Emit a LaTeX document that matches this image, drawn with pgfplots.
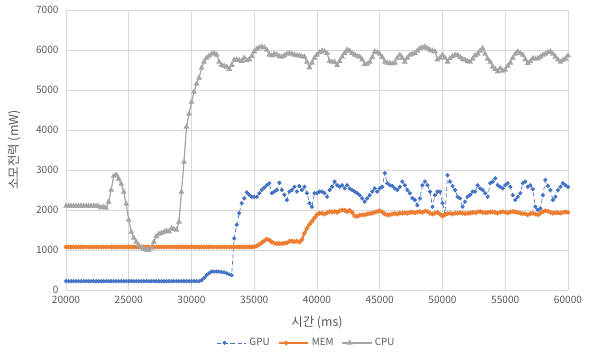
\documentclass[border=0pt]{standalone}
\usepackage{fontspec}
\setmainfont{Noto Sans CJK KR}
\usepackage{pgfplots}
\usepackage{pgfplotstable}
\pgfplotsset{compat=1.18}
\definecolor{gpuc}{HTML}{4472C4}
\definecolor{memc}{HTML}{ED7D31}
\definecolor{cpuc}{HTML}{A5A5A5}
\definecolor{gridc}{HTML}{D9D9D9}
\definecolor{txtc}{HTML}{595959}
\pgfplotstableread{
t gpu mem cpu
20000 220 1075 2100
20200 220 1075 2100
20400 220 1075 2100
20600 220 1075 2100
20800 220 1075 2100
21000 220 1075 2100
21200 220 1075 2100
21400 220 1075 2100
21600 220 1075 2100
21800 220 1075 2100
22000 220 1075 2100
22200 220 1075 2100
22400 220 1075 2100
22600 220 1075 2090
22800 220 1075 2060
23000 220 1075 2080
23200 220 1075 2050
23400 220 1075 2200
23600 220 1075 2500
23800 220 1075 2850
24000 220 1075 2880
24200 220 1075 2780
24400 220 1075 2650
24600 220 1075 2450
24800 220 1075 2150
25000 220 1075 1750
25200 220 1075 1450
25400 220 1075 1300
25600 220 1075 1200
25800 220 1075 1120
26000 220 1075 1060
26200 220 1075 1020
26400 220 1075 1000
26600 220 1075 990
26800 220 1075 1050
27000 220 1075 1200
27200 220 1075 1340
27400 220 1075 1400
27600 220 1075 1420
27800 220 1075 1450
28000 220 1075 1480
28200 220 1075 1460
28400 220 1075 1540
28600 220 1075 1520
28800 220 1075 1500
29000 220 1075 1700
29200 220 1075 2450
29400 220 1075 3200
29600 220 1075 4080
29800 220 1075 4400
30000 220 1075 4700
30200 220 1075 4950
30400 220 1075 5150
30600 220 1075 5300
30800 240 1075 5550
31000 300 1075 5700
31200 370 1075 5800
31400 420 1075 5850
31600 460 1075 5900
31800 460 1075 5920
32000 460 1075 5880
32200 460 1075 5700
32400 450 1075 5620
32600 440 1075 5600
32800 420 1075 5580
33000 390 1075 5520
33200 370 1075 5620
33400 1290 1075 5750
33600 1630 1075 5760
33800 1920 1075 5740
34000 2170 1075 5720
34200 2290 1075 5800
34400 2440 1075 5740
34600 2380 1075 5760
34800 2330 1075 5840
35000 2330 1080 5960
35200 2330 1100 6020
35400 2420 1140 6060
35600 2500 1180 6080
35800 2560 1230 6060
36000 2620 1270 6000
36200 2670 1250 5880
36400 2420 1200 5860
36600 2460 1170 5900
36800 2500 1160 5880
37000 2680 1160 5840
37200 2500 1160 5830
37400 2380 1170 5860
37600 2250 1180 5900
37800 2460 1220 5920
38000 2500 1220 5900
38200 2580 1210 5880
38400 2460 1220 5860
38600 2600 1200 5860
38800 2500 1260 5840
39000 2580 1420 5830
39200 2420 1540 5700
39400 2170 1640 5560
39600 2080 1720 5680
39800 2420 1800 5800
40000 2420 1880 5880
40200 2460 1920 5940
40400 2460 1920 5980
40600 2420 1900 5960
40800 2330 1930 5920
41000 2500 1960 5720
41200 2580 1950 5700
41400 2710 1960 5700
41600 2620 1940 5620
41800 2580 1980 5720
42000 2620 2000 5830
42200 2540 1990 5920
42400 2620 1960 6000
42600 2540 1990 5980
42800 2500 1940 5920
43000 2460 1850 5880
43200 2420 1840 5850
43400 2370 1870 5830
43600 2290 1880 5760
43800 2210 1880 5640
44000 2290 1900 5650
44200 2370 1910 5700
44400 2460 1920 5820
44600 2540 1940 5960
44800 2460 1960 5940
45000 2540 1980 5900
45200 2580 1950 5820
45400 2920 1900 5700
45600 2670 1880 5680
45800 2620 1880 5670
46000 2600 1900 5660
46200 2540 1910 5680
46400 2500 1900 5800
46600 2580 1920 5875
46800 2710 1920 5800
47000 2620 1930 5700
47200 2500 1920 5800
47400 2420 1940 5875
47600 2300 1940 5900
47800 2250 1930 5920
48000 2120 1950 5980
48200 2290 1960 6040
48400 2620 1940 6060
48600 2710 1970 6080
48800 2620 1960 6040
49000 2460 1920 6000
49200 2080 1900 5980
49400 2370 1920 5960
49600 2460 1940 5760
49800 2460 1900 5800
50000 2170 1850 5875
50200 1900 1880 5800
50400 2870 1910 5700
50600 2710 1920 5790
50800 2600 1900 5840
51000 2500 1920 5875
51200 2330 1920 5870
51400 2290 1930 5820
51600 2080 1920 5770
51800 2210 1910 5750
52000 2330 1920 5720
52200 2380 1920 5700
52400 2460 1940 5780
52600 2460 1930 5860
52800 2620 1950 5900
53000 2540 1960 5980
53200 2500 1940 6040
53400 2420 1930 5900
53600 2330 1940 5780
53800 2670 1950 5700
54000 2710 1950 5580
54200 2790 1940 5520
54400 2620 1920 5460
54600 2580 1940 5540
54800 2540 1960 5480
55000 2620 1940 5500
55200 2670 1930 5600
55400 2580 1950 5680
55600 2370 1960 5800
55800 2250 1950 5900
56000 2330 1940 5960
56200 2420 1920 5920
56400 2670 1910 5875
56600 2710 1900 5760
56800 2580 1880 5670
57000 2620 1910 5720
57200 2520 1920 5790
57400 2080 1900 5780
57600 2000 1880 5790
57800 2040 1920 5830
58000 2370 1960 5875
58200 2750 1980 5900
58400 2600 1970 5940
58600 2500 1940 5960
58800 2250 1920 5900
59000 2330 1930 5830
59200 2500 1930 5760
59400 2580 1920 5700
59600 2670 1940 5750
59800 2620 1950 5780
60000 2580 1940 5860
}\data
\begin{document}
\begin{tikzpicture}[x=1pt,y=1pt]
\useasboundingbox (-49.5pt,-46.5pt) rectangle (392.25pt,217.5pt);
\begin{axis}[
  at={(0,0)}, anchor=south west,
  scale only axis, width=376.5pt, height=210pt,
  xmin=20000, xmax=60000, ymin=0, ymax=7000,
  xtick={20000,25000,...,60000},
  ytick={0,1000,...,7000},
  scaled ticks=false,
  /pgf/number format/set thousands separator={},
  /pgf/number format/assume math mode=true,
  grid=major,
  major grid style={gridc, line width=0.6pt},
  axis x line*=bottom, axis y line*=left,
  x axis line style={gridc, line width=0.6pt, -},
  y axis line style={draw=none},
  tick style={draw=none},
  ticklabel style={font=\fontsize{7.6}{9}\selectfont, text=txtc},
  xticklabel style={yshift=-1pt},
  yticklabel style={xshift=-2pt},
  xlabel={시간 (ms)},
  ylabel={소모전력 (mW)},
  label style={font=\fontsize{9.3}{11}\selectfont, text=txtc},
  xlabel style={at={(axis description cs:0.5,-0.118)}, anchor=center},
  ylabel style={at={(axis description cs:-0.102,0.5)}, anchor=center},
  legend columns=3,
  legend style={at={(axis description cs:0.48,-0.189)}, anchor=center, draw=none, fill=none,
    font=\fontsize{7.4}{9}\selectfont, text=txtc,
    /tikz/every even column/.append style={column sep=4pt}},
  legend image code/.code={\draw[#1] (0pt,0pt) -- (11pt,0pt) plot coordinates {(5.5pt,0pt)} -- (22pt,0pt);},
]
\addplot[gpuc, densely dashed, line width=0.5pt, mark=*, mark size=1.3pt, mark options={solid, fill=gpuc, draw=gpuc}] table[x=t,y=gpu]{\data};
\addlegendentry{GPU}
\addplot[memc, line width=1.6pt, mark=*, mark size=0.8pt, mark options={solid, fill=memc, draw=memc}] table[x=t,y=mem]{\data};
\addlegendentry{MEM}
\addplot[cpuc, line width=0.9pt, mark=triangle*, mark size=1.7pt, mark options={solid, fill=cpuc, draw=cpuc}] table[x=t,y=cpu]{\data};
\addlegendentry{CPU}
\end{axis}
\end{tikzpicture}
\end{document}
